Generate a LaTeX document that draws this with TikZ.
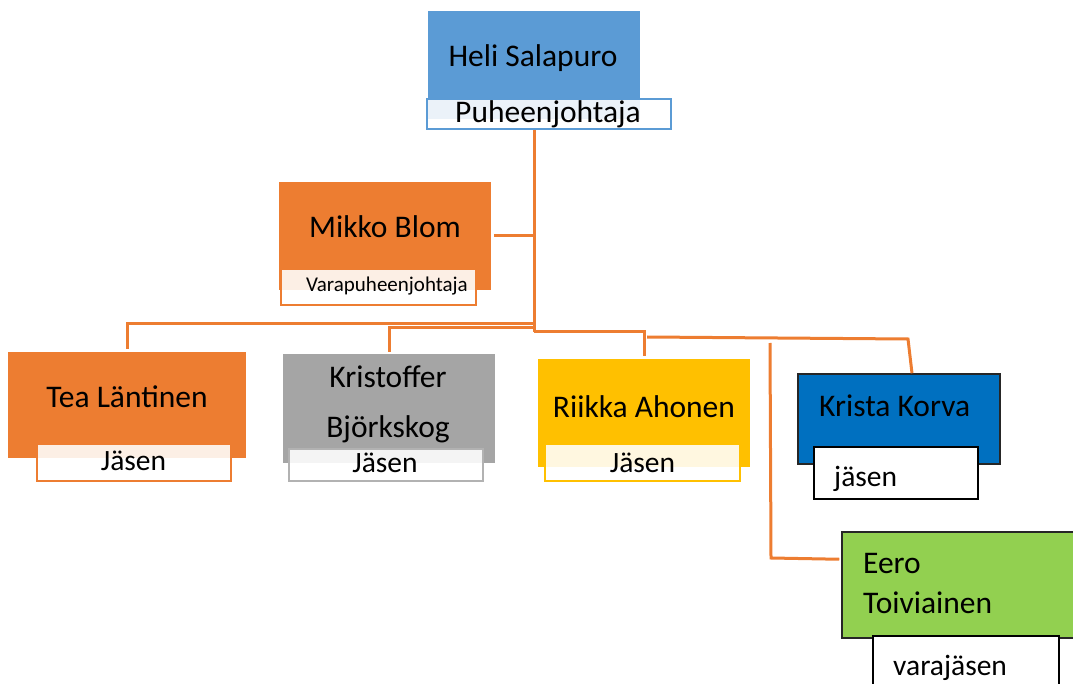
\documentclass[tikz,border=0pt]{standalone}
\usepackage{fontspec}
\setmainfont{Carlito}
\usetikzlibrary{positioning}
\definecolor{heliblue}{HTML}{5B9BD5}
\definecolor{boardorange}{HTML}{ED7D31}
\definecolor{boardgray}{HTML}{A5A5A5}
\definecolor{boardgold}{HTML}{FFC000}
\definecolor{kristablue}{HTML}{0070C0}
\definecolor{eerogreen}{HTML}{92D050}
\newcommand{\cardfont}{\fontsize{31.5}{50}\selectfont}
\newcommand{\rolefont}{\fontsize{29.5}{36}\selectfont}
\newcommand{\smallrolefont}{\fontsize{21}{25}\selectfont}

\begin{document}
\begin{tikzpicture}[x=1pt,y=-1pt]

            % Styles for the cards and their role labels
            \tikzstyle{card} = [rectangle, inner sep=0pt,
                                minimum width=212pt, minimum height=108pt]
            \tikzstyle{role} = [rectangle, inner sep=0pt, line width=2.5pt,
                                fill=white, fill opacity=0.88]
            \tikzstyle{cardtext} = [inner sep=0pt, anchor=base, font=\cardfont, align=center]
            \tikzstyle{roletext} = [inner sep=0pt, anchor=base, font=\rolefont]
            \tikzstyle{link} = [draw=boardorange, line width=3pt]

            \useasboundingbox (0,0) rectangle (1073,684);

            % Chair
            \node[card, fill=heliblue] (heli) at (534,65) {};
            \node[role, draw=heliblue, minimum width=244pt, minimum height=30pt] (helirole) at (549,114) {};
            \node[cardtext] (heliname) at (533,67) {Heli Salapuro};
            \node[cardtext] (helititle) at (548,123) {Puheenjohtaja};

            % Vice chair
            \node[card, fill=boardorange] (mikko) at (385,236) {};
            \node[role, draw=boardorange, minimum width=195pt, minimum height=36pt] (mikkorole) at (378.5,287) {};
            \node[cardtext] (mikkoname) at (385,238) {Mikko Blom};
            \node[roletext, font=\smallrolefont] (mikkotitle) at (387,292) {Varapuheenjohtaja};

            % First member
            \node[card, fill=boardorange, minimum width=238pt, minimum height=106pt] (tea) at (127,405) {};
            \node[role, draw=boardorange, minimum width=194pt, minimum height=37pt] (tearole) at (134,462.5) {};
            \node[cardtext] (teaname) at (127,407) {Tea Läntinen};
            \node[roletext] (teatitle) at (133.5,470) {Jäsen};

            % Second member
            \node[card, fill=boardgray, minimum height=109pt] (kris) at (389,408.5) {};
            \node[role, draw=boardgray!85, minimum width=194pt, minimum height=32pt] (krisrole) at (386,465) {};
            \node[cardtext] (krisname) at (388,437) {Kristoffer\\Björkskog};
            \node[roletext] (kristitle) at (385,472) {Jäsen};

            % Third member
            \node[card, fill=boardgold] (riikka) at (644,413) {};
            \node[role, draw=boardgold, minimum width=195pt, minimum height=37pt] (riikkarole) at (642.5,462.5) {};
            \node[cardtext] (riikkaname) at (644,417) {Riikka Ahonen};
            \node[roletext] (riikkatitle) at (642.5,472) {Jäsen};

            % Fourth member
            \node[card, fill=kristablue, draw=black!85, line width=1.5pt,
                  minimum width=202pt, minimum height=90pt] (krista) at (899,419) {};
            \node[role, draw=black, line width=1.2pt, fill opacity=1,
                  minimum width=164pt, minimum height=52pt] (kristarole) at (896,473) {};
            \node[cardtext, anchor=base west] (kristaname) at (819,416) {Krista Korva};
            \node[roletext, anchor=base west] (kristatitle) at (834,486) {jäsen};

            % Deputy member
            \node[card, fill=eerogreen, draw=black!85, line width=1.5pt,
                  minimum width=248pt, minimum height=106pt] (eero) at (966,585) {};
            \node[role, draw=black, line width=1.2pt, fill opacity=1,
                  minimum width=186pt, minimum height=64pt] (eerorole) at (966,668) {};
            \node[cardtext, anchor=base west, align=left, font=\fontsize{31.5}{40}\selectfont]
                  (eeroname) at (863,613) {Eero\\Toiviainen};
            \node[roletext, anchor=base west] (eerotitle) at (893,675) {varajäsen};

            % Connectors
            \coordinate (hub) at (534,332);
            \coordinate (teajoin) at (534,324);
            \coordinate (krisjoin) at (534,328);
            \coordinate (kristajoin) at (647,337);
            \coordinate (eerojoin) at (770,343);
            \draw[link] (heli |- helirole.south) -- (hub);
            \draw[link] ([xshift=3pt]mikko.east) -- (mikko.east -| hub);
            \draw[link] (teajoin) -| ([yshift=3pt]tea.north);
            \draw[link] (krisjoin) -| ([yshift=2pt]kris.north);
            \draw[link] (hub) -| ([yshift=3pt]riikka.north);
            \draw[link] (kristajoin) -- (908,339) -- ([xshift=13pt]krista.north);
            \draw[link] (eerojoin) -- (771,558) -- ([xshift=-2pt,yshift=-28pt]eero.north west);

\end{tikzpicture}
\end{document}
